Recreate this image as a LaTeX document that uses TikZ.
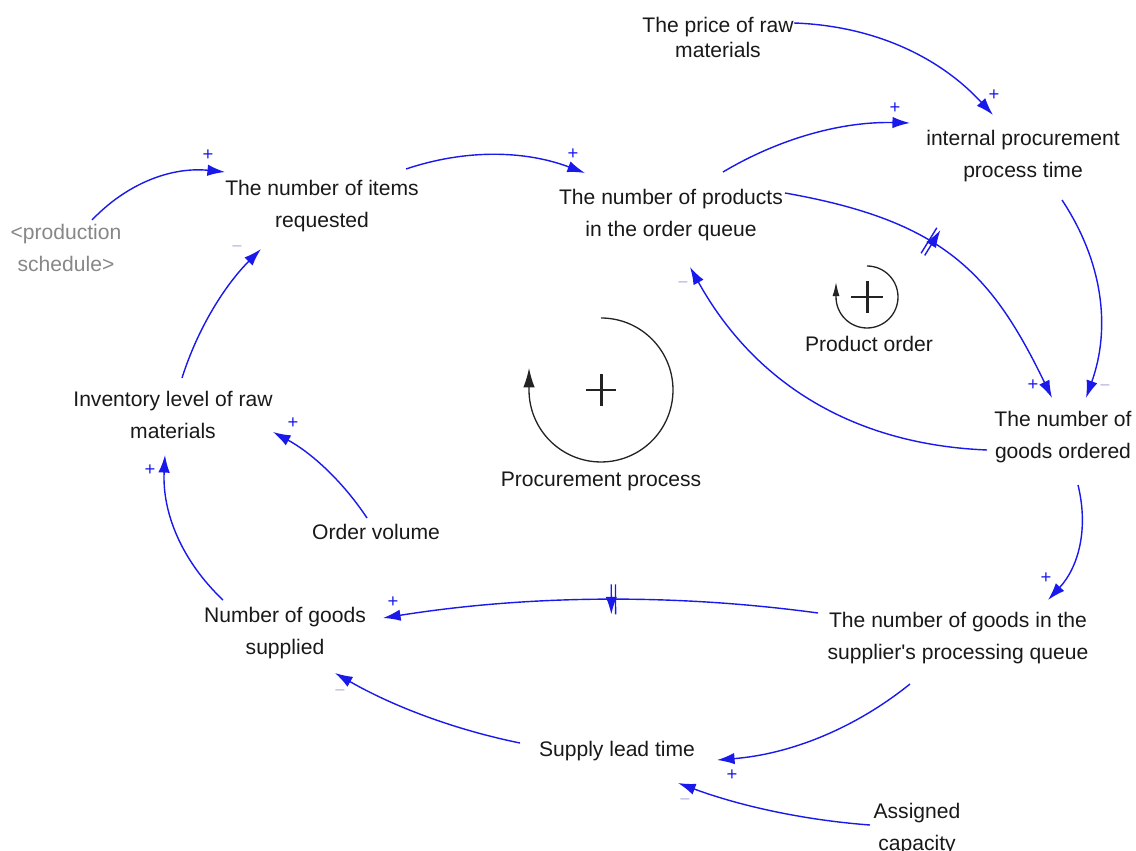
\documentclass[tikz,border=0pt]{standalone}
\usepackage{fontspec}
\setmainfont{Liberation Sans}[Ligatures=TeXOff]
\usetikzlibrary{arrows.meta,decorations.markings}

\definecolor{linkblue}{RGB}{25,25,235}
\definecolor{minuscol}{RGB}{185,185,225}
\definecolor{shadowgray}{RGB}{135,135,135}
\definecolor{txt}{RGB}{25,25,25}
\definecolor{loopcol}{RGB}{35,35,35}

\tikzset{
  var/.style={font=\fontsize{12}{18.2}\selectfont, align=center, inner sep=0pt, text=txt},
  tightvar/.style={var, font=\fontsize{12}{14.2}\selectfont},
  shadowvar/.style={var, text=shadowgray},
  link/.style={draw=linkblue, line width=0.8pt, -{Latex[length=10pt,width=6.5pt]}},
  possign/.style={text=linkblue, font=\fontsize{10.5}{10.5}\selectfont, inner sep=0pt},
  negsign/.style={text=minuscol, font=\fontsize{10.5}{10.5}\selectfont, inner sep=0pt},
  delayed/.style={postaction={decorate}, decoration={markings,
      mark=at position #1 with {\draw[linkblue, line width=0.8pt]
        (-1.2pt,-8.5pt) -- (-1.2pt,8.5pt) (1.2pt,-8.5pt) -- (1.2pt,8.5pt);}}},
  loopline/.style={draw=loopcol, line width=0.75pt},
  loopsign/.style={draw=loopcol, line width=1.7pt},
}

\begin{document}
\begin{tikzpicture}[x=0.02cm, y=-0.02cm]
\useasboundingbox (0,0) rectangle (1136,851);

% variables
\node[tightvar] (price) at (718,37)  {The price of raw\\materials};
\node[var] (internal)  at (1023,156) {internal procurement\\process time};
\node[var] (items)     at (322,206)  {The number of items\\requested};
\node[var] (products)  at (671,215)  {The number of products\\in the order queue};
\node[shadowvar] (sched) at (66,248) {<production\\schedule>};
\node[var] (inventory) at (173,415)  {Inventory level of raw\\materials};
\node[var] (ordered)   at (1063,437) {The number of\\goods ordered};
\node[var] (volume)    at (376,532)  {Order volume};
\node[var] (supplied)  at (285,633)  {Number of goods\\supplied};
\node[var] (supplierq) at (958,638)  {The number of goods in the\\supplier's processing queue};
\node[var] (lead)      at (617,751)  {Supply lead time};
\node[var] (capacity)  at (917,829)  {Assigned\\capacity};

% loop markers
\coordinate (pp) at (601,390);
\coordinate (po) at (867,297);
\node[var] (procloop)  at (601,481) {Procurement process};
\node[var] (orderloop) at (869,344) {Product order};
\draw[loopline, -{Latex[length=11pt,width=6.5pt]}]
  ([shift={(0,-72)}]pp) arc[start angle=90, end angle=-180, radius=1.44cm] -- ++(0,-22);
\draw[loopsign] ([shift={(-15,0)}]pp) -- ([shift={(15,0)}]pp)
                ([shift={(0,-16)}]pp) -- ([shift={(0,16)}]pp);
\draw[loopline, -{Latex[length=8pt,width=4pt]}]
  ([shift={(0,-31)}]po) arc[start angle=90, end angle=-180, radius=0.62cm] -- ++(0,-15);
\draw[loopsign] ([shift={(-16,0)}]po) -- ([shift={(16,0)}]po)
                ([shift={(0,-16)}]po) -- ([shift={(0,16)}]po);

% causal links
\draw[link] ([shift={(26,-28)}]sched.center)
  .. controls +(35.7,-37.3) and +(-53,-5.3) .. ([shift={(-97,-34)}]items.center);
\draw[link] ([shift={(9,-37)}]inventory.center)
  .. controls +(15.7,-49.6) and +(-36.3,36.4) .. ([shift={(-61,43)}]items.center);
\draw[link] ([shift={(84,-37)}]items.center)
  .. controls +(59.7,-20) and +(-60.3,-22.7) .. ([shift={(-86,-42)}]products.center);
\draw[link] ([shift={(52,-43)}]products.center)
  .. controls +(57.7,-34.3) and +(-67,-1.7) .. ([shift={(-113,-33)}]internal.center);
\draw[link] ([shift={(76,-14)}]price.center)
  .. controls +(79.5,2.8) and +(-53.9,-58.5) .. ([shift={(-30,-41)}]internal.center);
\draw[link, delayed=0.435] ([shift={(114,-22)}]products.center)
  .. controls +(157.6,27.8) and +(-61,-126) .. ([shift={(-11,-39)}]ordered.center);
\draw[link] ([shift={(39,44)}]internal.center)
  .. controls +(41,62) and +(25,-70) .. ([shift={(23,-39)}]ordered.center);
\draw[link] ([shift={(-76,13)}]ordered.center)
  .. controls +(-133.3,-5.4) and +(64.7,116.6) .. ([shift={(19,52)}]products.center);
\draw[link] ([shift={(15,48)}]ordered.center)
  .. controls +(10.7,43.7) and +(30.7,-33) .. ([shift={(90,-38)}]supplierq.center);
\draw[link, delayed=0.47] ([shift={(-140,-25)}]supplierq.center)
  .. controls +(-145,-19.7) and +(145,-23) .. ([shift={(98,-15)}]supplied.center);
\draw[link] ([shift={(-48,46)}]supplierq.center)
  .. controls +(-56.5,45.5) and +(72.2,-5.8) .. ([shift={(100,9)}]lead.center);
\draw[link] ([shift={(-47,-4)}]capacity.center)
  .. controls +(-66,-4.9) and +(62,23) .. ([shift={(61,32)}]lead.center);
\draw[link] ([shift={(-97,-8)}]lead.center)
  .. controls +(-65.4,-13.3) and +(57.9,33.3) .. ([shift={(50,40)}]supplied.center);
\draw[link] ([shift={(-62,-33)}]supplied.center)
  .. controls +(-41.6,-39.4) and +(-2.9,57.3) .. ([shift={(-8,40)}]inventory.center);
\draw[link] ([shift={(-9,-14)}]volume.center)
  .. controls +(-24.1,-36.5) and +(38.5,20.8) .. ([shift={(100,17)}]inventory.center);

% link polarities
\node[possign] (s1)  at (208,155)  {+};
\node[negsign] (s2)  at (237,249)  {−};
\node[possign] (s3)  at (573,154)  {+};
\node[possign] (s4)  at (895,108)  {+};
\node[possign] (s5)  at (994,95)   {+};
\node[possign] (s6)  at (1033,385) {+};
\node[negsign] (s7)  at (1105,388) {−};
\node[negsign] (s8)  at (683,285)  {−};
\node[possign] (s9)  at (1046,578) {+};
\node[possign] (s10) at (393,602)  {+};
\node[possign] (s11) at (732,775)  {+};
\node[negsign] (s12) at (685,802)  {−};
\node[negsign] (s13) at (340,693)  {−};
\node[possign] (s14) at (150,470)  {+};
\node[possign] (s15) at (293,423)  {+};
\end{tikzpicture}
\end{document}
